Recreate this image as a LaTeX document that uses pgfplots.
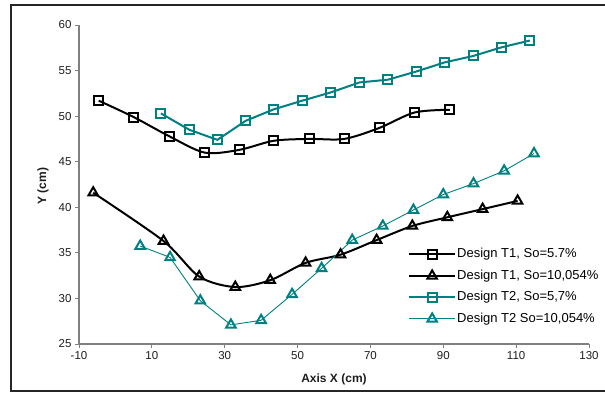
\documentclass[border=0pt]{standalone}
\usepackage{fontspec}
\setmainfont{Liberation Sans}
\usepackage{pgfplots}
\pgfplotsset{compat=1.18}
\definecolor{teal}{RGB}{0,128,128}
\definecolor{axgray}{RGB}{128,128,128}
\definecolor{txt}{RGB}{30,30,30}
\begin{document}
\begin{tikzpicture}[x=1pt,y=1pt]
\path[use as bounding box] (0,0) rectangle (605,392);
\draw[line width=1.3pt, black!85] (605,387) -- (11,387) -- (11,1) -- (605,1);
\begin{axis}[
  at={(79pt,48pt)}, anchor=south west,
  scale only axis, width=510pt, height=319pt,
  xmin=-10, xmax=130, ymin=25, ymax=60,
  axis lines*=left,
  axis line style={axgray, line width=1.2pt},
  every tick/.style={axgray, line width=1pt},
  tick align=outside, major tick length=4pt,
  xtick={-10,10,...,130}, xticklabels={-10,10,30,50,70,90,110,130},
  ytick={25,30,...,60}, yticklabels={25,30,35,40,45,50,55,60},
  tick label style={font=\fontsize{11.5}{13}\selectfont, text=txt},
  xlabel={Axis X (cm)}, ylabel={Y (cm)},
  label style={font=\fontsize{12}{14}\selectfont\bfseries, text=txt},
  xlabel style={at={(axis description cs:0.5,-0.11)}, anchor=center},
  ylabel style={at={(axis description cs:-0.0706,0.495)}, anchor=center, rotate=0},
  legend cell align=left,
  legend style={draw=none, fill=none, at={(0.645,0.305)}, anchor=north west,
    font=\fontsize{13}{15}\selectfont, inner sep=0pt, row sep=6.5pt,
    nodes={inner sep=1pt, text height=10pt, text depth=3pt}},
  legend image code/.code={\draw[mark repeat=2,mark phase=2] plot coordinates {(0pt,0pt) (23pt,0pt) (46pt,0pt)};},
  clip=false,
]
\addplot[black, line width=2pt, smooth, tension=0.5, mark=square, mark size=4.5pt, mark options={fill=white, line width=2pt, solid}]
coordinates {(-4.6,51.7) (5.0,49.9) (14.75,47.8) (24.5,46.0) (34.0,46.3) (43.5,47.3) (53.3,47.5) (62.8,47.5) (72.4,48.7) (82.1,50.4) (91.8,50.7)};
\addlegendentry{Design T1, So=5.7\%}
\addplot[black, line width=2pt, smooth, tension=0.5, mark=triangle, mark size=5.5pt, mark options={fill=white, line width=2pt, solid}]
coordinates {(-6.1,41.6) (13.2,36.3) (23.0,32.4) (32.9,31.25) (42.5,32.0) (52.2,33.9) (61.8,34.8) (71.7,36.4) (81.5,37.95) (91.1,38.9) (100.8,39.8) (110.4,40.7)};
\addlegendentry{Design T1, So=10,054\%}
\addplot[teal, line width=2pt, mark=square, mark size=4.5pt, mark options={fill=white, line width=2pt, solid}]
coordinates {(12.5,50.3) (20.3,48.5) (28.0,47.4) (35.8,49.5) (43.5,50.75) (51.3,51.7) (59.1,52.6) (67.0,53.7) (74.8,54.0) (82.6,54.9) (90.4,55.9) (98.2,56.6) (106.0,57.55) (113.8,58.3)};
\addlegendentry{Design T2, So=5,7\%}
\addplot[teal, line width=0.9pt, mark=triangle, mark size=5.5pt, mark options={fill=white, line width=2pt, solid}]
coordinates {(6.8,35.75) (15.0,34.5) (23.3,29.75) (31.7,27.1) (40.0,27.6) (48.5,30.45) (56.6,33.3) (65.0,36.4) (73.4,37.95) (81.8,39.7) (90.0,41.4) (98.3,42.6) (106.7,44.0) (114.9,45.9)};
\addlegendentry{Design T2 So=10,054\%}
\end{axis}
\end{tikzpicture}
\end{document}
